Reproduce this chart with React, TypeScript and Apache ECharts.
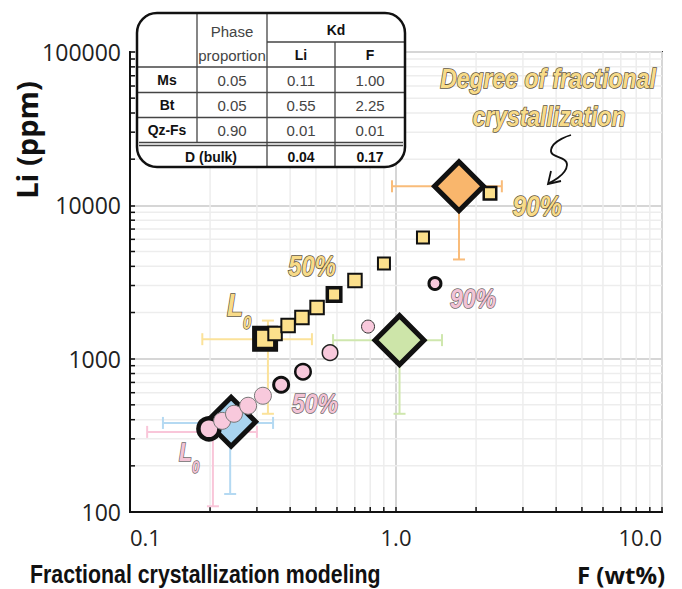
import React, { useEffect, useRef } from 'react';
import * as echarts from 'echarts';

// ---------- axes ----------
const X_MIN = 0.1;
const X_MAX = 10;
const Y_MIN = 100;
const Y_MAX = 100000;
const X_TICKS = [0.1, 1, 10];
const X_TICK_LABELS = ['0.1', '1.0', '10.0'];
const Y_TICKS = [100, 1000, 10000, 100000];
const Y_TICK_LABELS = ['100', '1000', '10000', '100000'];
const MINOR_STEPS = [2, 3, 4, 5, 6, 7, 8, 9];
const X_DECADES = [0.1, 1];
const Y_DECADES = [100, 1000, 10000];

// ---------- fractional crystallization model (L0, 10% ... 90%) ----------
const FC_STEPS = ['L0', '10%', '20%', '30%', '40%', '50%', '60%', '70%', '80%', '90%'];
const MODEL_A_F = [0.322, 0.351, 0.393, 0.443, 0.505, 0.585, 0.701, 0.901, 1.263, 2.256];
const MODEL_A_LI = [1351, 1457, 1643, 1853, 2154, 2620, 3234, 4178, 6177, 11980];
const MODEL_B_F = [0.198, 0.222, 0.246, 0.278, 0.316, 0.37, 0.447, 0.565, 0.785, 1.401];
const MODEL_B_LI = [349, 393, 437, 493, 573, 676, 822, 1094, 1619, 3092];

// ---------- samples (diamonds) ----------
const SAMPLE_NAMES = ['Sample 1', 'Sample 2', 'Sample 3'];
const SAMPLE_F = [0.24, 1.031, 1.725];
const SAMPLE_LI = [388, 1321, 13310];

// ---------- uncertainties ----------
const ERR_NAMES = ['Model A L0', 'Model B L0', 'Sample 1', 'Sample 2', 'Sample 3'];
const ERR_F_MID = [0.33, 0.205, 0.238, 1.031, 1.725];
const ERR_LI_MID = [1340, 333, 381, 1321, 13310];
const ERR_F_LOW = [0.187, 0.116, 0.133, 0.58, 0.966];
const ERR_F_HIGH = [0.483, 0.3, 0.345, 1.489, 2.5];
const ERR_LI_LOW = [437, 109, 131, 437, 4436];
const ERR_LI_HIGH: (number | null)[] = [1772, null, null, null, null];

// ---------- partition coefficient table ----------
const TABLE_PHASES = ['Ms', 'Bt', 'Qz-Fs'];
const PHASE_PROPORTION = ['0.05', '0.05', '0.90'];
const KD_LI = ['0.11', '0.55', '0.01'];
const KD_F = ['1.00', '2.25', '0.01'];
const D_BULK_LI = '0.04';
const D_BULK_F = '0.17';

// ---------- styling ----------
const YELLOW = '#FCE08C';
const PINK = '#F8C9DC';
const SAMPLE_COLORS = ['#A9D4EF', '#CDE5A9', '#F9B66C'];
const ERR_COLORS = ['#FBE29A', '#F9C6D9', '#B4D9F2', '#CFE7AE', '#F9BC7A'];
const ARIAL = "'Liberation Sans', Arial, sans-serif";
const SANS = "'Open Sans', 'Noto Sans', sans-serif";
const NARROW_SCALE = 0.82;

const fmt = (ticks: number[], labels: string[]) => (v: number) => {
  const i = ticks.findIndex((t) => Math.abs(Math.log10(t) - Math.log10(v)) < 1e-6);
  return i >= 0 ? labels[i] : '';
};

const squareStyle = (i: number) => {
  if (i === 0) return { size: 21, border: 5 };
  if (i === 5) return { size: 13.5, border: 3.5 };
  if (i === 9) return { size: 12.5, border: 2.5 };
  if (i >= 7) return { size: 12, border: 2 };
  return { size: 13.5, border: 2 };
};
const circleStyle = (i: number) => {
  if (i === 0) return { size: 21, border: 4.5, color: '#111' };
  if (i === 5) return { size: 15, border: 3, color: '#111' };
  if (i === 6) return { size: 15.5, border: 2.5, color: '#111' };
  if (i === 7) return { size: 15.5, border: 1.5, color: '#222' };
  if (i === 8) return { size: 13, border: 1, color: '#333' };
  if (i === 9) return { size: 12, border: 3, color: '#111' };
  return { size: 17, border: 1, color: '#777' };
};

function buildTable(): any[] {
  const L = 137, R = 405, T = 13, B = 167;
  const c1 = 197, c2 = 267, c3 = 335;
  const els: any[] = [];
  const line = (x1: number, y1: number, x2: number, y2: number, w = 1.3) => ({
    type: 'line',
    shape: { x1, y1, x2, y2 },
    style: { stroke: '#444', lineWidth: w },
    z: 101,
  });
  const txt = (text: string, x: number, y: number, bold: boolean) => ({
    type: 'text',
    x,
    y,
    scaleX: bold ? 0.9 : 0.97,
    style: {
      text,
      font: `${bold ? 'bold ' : ''}15.5px ${ARIAL}`,
      fill: bold ? '#111' : '#444',
      align: 'center',
      verticalAlign: 'middle',
      textAlign: 'center',
      textVerticalAlign: 'middle',
    },
    z: 102,
  });
  els.push({
    type: 'rect',
    shape: { x: L, y: T, width: R - L, height: B - T, r: 20 },
    style: { fill: '#fff', stroke: 'none' },
    z: 100,
  });
  els.push(line(c2, 42, R, 42));
  els.push(line(L, 67, R, 67));
  els.push(line(L, 92.5, R, 92.5));
  els.push(line(L, 117.5, R, 117.5));
  els.push(line(L + 2, 142.5, R - 2, 142.5));
  els.push(line(L + 2, 145.5, R - 2, 145.5));
  els.push(line(c1, T, c1, 142.5));
  els.push(line(c2, T, c2, B));
  els.push(line(c3, 42, c3, B));
  els.push(txt('Phase', 232, 31, false));
  els.push(txt('proportion', 232, 55, false));
  els.push(txt('Kd', (c2 + R) / 2, 30, true));
  els.push(txt('Li', (c2 + c3) / 2, 55, true));
  els.push(txt('F', (c3 + R) / 2, 55, true));
  TABLE_PHASES.forEach((p, i) => {
    const y = 80 + i * 25;
    els.push(txt(p, (L + c1) / 2, y, true));
    els.push(txt(PHASE_PROPORTION[i], (c1 + c2) / 2, y, false));
    els.push(txt(KD_LI[i], (c2 + c3) / 2, y, false));
    els.push(txt(KD_F[i], (c3 + R) / 2, y, false));
  });
  els.push(txt('D (bulk)', 211, 157, true));
  els.push(txt(D_BULK_LI, (c2 + c3) / 2, 157, true));
  els.push(txt(D_BULK_F, (c3 + R) / 2, 157, true));
  els.push({
    type: 'rect',
    shape: { x: L, y: T, width: R - L, height: B - T, r: 20 },
    style: { fill: 'none', stroke: '#111', lineWidth: 2.5 },
    z: 103,
  });
  return els;
}

function outlined(text: string, x: number, y: number, size: number, fill: string, stroke: string): any {
  return {
    type: 'text',
    x,
    y,
    scaleX: NARROW_SCALE,
    style: {
      text,
      font: `italic bold ${size}px ${ARIAL}`,
      fill,
      stroke,
      lineWidth: 1.6,
      align: 'center',
      verticalAlign: 'middle',
      textAlign: 'center',
      textVerticalAlign: 'middle',
    },
    z: 90,
  };
}

function subscripted(x: number, y: number, big: number, small: number, pad: number, fill: string, stroke: string): any {
  return {
    type: 'text',
    x,
    y,
    scaleX: NARROW_SCALE,
    style: {
      text: '{l|L}{s|0}',
      align: 'left',
      verticalAlign: 'top',
      textAlign: 'left',
      textVerticalAlign: 'top',
      rich: {
        l: {
          font: `italic bold ${big}px ${ARIAL}`,
          fill,
          stroke,
          lineWidth: 1.6,
          lineHeight: big,
          verticalAlign: 'top',
        },
        s: {
          font: `italic bold ${small}px ${ARIAL}`,
          fill,
          stroke,
          lineWidth: 1.3,
          lineHeight: small,
          verticalAlign: 'top',
          padding: [pad, 0, 0, 0],
        },
      },
    },
    z: 90,
  };
}

function buildOption(): any {
  const xMinor: number[] = [];
  X_DECADES.forEach((d) => MINOR_STEPS.forEach((k) => xMinor.push(+(k * d).toFixed(6))));
  const yMinor: number[] = [];
  Y_DECADES.forEach((d) => MINOR_STEPS.forEach((k) => yMinor.push(k * d)));

  const yellowText = '#F8DB89';
  const yellowStroke = '#5e5540';
  const pinkText = '#F3C3D5';
  const pinkStroke = '#6f6a6c';

  const graphic: any[] = [
    ...buildTable(),
    outlined('Degree of fractional', 548, 78, 28, yellowText, yellowStroke),
    outlined('crystallization', 549, 116, 28, yellowText, yellowStroke),
    outlined('90%', 537, 206, 30, yellowText, yellowStroke),
    outlined('50%', 312, 266, 29, yellowText, yellowStroke),
    subscripted(227, 289, 32, 18, 24, yellowText, yellowStroke),
    outlined('90%', 473, 298, 28, pinkText, pinkStroke),
    outlined('50%', 315, 403, 28, pinkText, pinkStroke),
    subscripted(179, 439, 26, 16, 21, pinkText, pinkStroke),
    {
      type: 'polyline',
      shape: { points: [[571, 135], [551, 150], [567, 165], [549, 183]], smooth: 0.6 },
      style: { stroke: '#111', lineWidth: 1.8, fill: 'none' },
      z: 90,
    },
    {
      type: 'polyline',
      shape: { points: [[551, 171], [548, 184], [561, 181]] },
      style: { stroke: '#111', lineWidth: 1.8, fill: 'none' },
      z: 90,
    },
    {
      type: 'text',
      x: 26,
      y: 140,
      rotation: Math.PI / 2,
      style: {
        text: 'Li (ppm)',
        font: `bold 29px ${SANS}`,
        fill: '#111',
        align: 'center',
        verticalAlign: 'middle',
        textAlign: 'center',
        textVerticalAlign: 'middle',
      },
    },
    {
      type: 'text',
      x: 621,
      y: 574,
      style: {
        text: 'F (wt%)',
        font: `bold 24px ${SANS}`,
        lineHeight: 26,
        fill: '#111',
        align: 'center',
        verticalAlign: 'middle',
        textAlign: 'center',
        textVerticalAlign: 'middle',
      },
    },
    {
      type: 'text',
      x: 30,
      y: 574,
      scaleX: NARROW_SCALE,
      style: {
        text: 'Fractional crystallization modeling',
        font: `bold 26px ${ARIAL}`,
        lineHeight: 26,
        fill: '#111',
        align: 'left',
        verticalAlign: 'middle',
        textAlign: 'left',
        textVerticalAlign: 'middle',
      },
    },
  ];

  return {
    animation: false,
    backgroundColor: '#fff',
    grid: {
      left: 130,
      right: 20,
      top: 52,
      bottom: 77,
      show: true,
      borderColor: '#333',
      borderWidth: 2,
      backgroundColor: 'transparent',
    },
    xAxis: {
      type: 'log',
      logBase: 10,
      min: X_MIN,
      max: X_MAX,
      axisLine: { show: true, onZero: false, lineStyle: { color: '#111', width: 2 } },
      axisTick: { show: true, inside: true, length: 5, lineStyle: { color: '#111', width: 1.5 } },
      axisLabel: {
        fontFamily: SANS,
        fontSize: 22,
        color: '#222',
        margin: 14,
        formatter: fmt(X_TICKS, X_TICK_LABELS),
        alignMinLabel: 'left',
        alignMaxLabel: 'right',
      },
      splitLine: { show: true, lineStyle: { color: '#d6d6d6', width: 2 } },
    },
    yAxis: {
      type: 'log',
      logBase: 10,
      min: Y_MIN,
      max: Y_MAX,
      axisLine: { show: true, onZero: false, lineStyle: { color: '#111', width: 2 } },
      axisTick: { show: true, inside: true, length: 5, lineStyle: { color: '#111', width: 1.5 } },
      axisLabel: {
        fontFamily: SANS,
        fontSize: 23,
        color: '#222',
        margin: 9,
        formatter: fmt(Y_TICKS, Y_TICK_LABELS),
      },
      splitLine: { show: true, lineStyle: { color: '#d6d6d6', width: 2 } },
    },
    graphic,
    series: [
      {
        name: 'minor-x',
        type: 'custom',
        coordinateSystem: 'cartesian2d',
        silent: true,
        z: 0,
        data: xMinor.map((v) => [v, Y_MIN]),
        renderItem: (_p: any, api: any) => {
          const v = api.value(0);
          const a = api.coord([v, Y_MIN]);
          const b = api.coord([v, Y_MAX]);
          return {
            type: 'group',
            children: [
              { type: 'line', shape: { x1: a[0], y1: a[1], x2: b[0], y2: b[1] }, style: { stroke: '#ededed', lineWidth: 1.5 } },
              { type: 'line', shape: { x1: a[0], y1: a[1], x2: a[0], y2: a[1] - 5 }, style: { stroke: '#111', lineWidth: 1.5 } },
            ],
          };
        },
      },
      {
        name: 'minor-y',
        type: 'custom',
        coordinateSystem: 'cartesian2d',
        silent: true,
        z: 0,
        data: yMinor.map((v) => [X_MIN, v]),
        renderItem: (_p: any, api: any) => {
          const v = api.value(1);
          const a = api.coord([X_MIN, v]);
          const b = api.coord([X_MAX, v]);
          return {
            type: 'group',
            children: [
              { type: 'line', shape: { x1: a[0], y1: a[1], x2: b[0], y2: b[1] }, style: { stroke: '#ededed', lineWidth: 1.5 } },
              { type: 'line', shape: { x1: a[0], y1: a[1], x2: a[0] + 5, y2: a[1] }, style: { stroke: '#111', lineWidth: 1.5 } },
            ],
          };
        },
      },
      {
        name: 'uncertainty',
        type: 'custom',
        coordinateSystem: 'cartesian2d',
        silent: true,
        z: 2,
        encode: { x: 0, y: 1 },
        data: ERR_NAMES.map((_n, i) => [
          ERR_F_MID[i],
          ERR_LI_MID[i],
          ERR_F_LOW[i],
          ERR_F_HIGH[i],
          ERR_LI_LOW[i],
          ERR_LI_HIGH[i] == null ? '-' : ERR_LI_HIGH[i],
        ]),
        renderItem: (params: any, api: any) => {
          const fx = api.value(0);
          const fy = api.value(1);
          const c = api.coord([fx, fy]);
          const xl = api.coord([api.value(2), fy]);
          const xh = api.coord([api.value(3), fy]);
          const yl = api.coord([fx, api.value(4)]);
          const yhv = api.value(5);
          const stroke = ERR_COLORS[params.dataIndex];
          const st = { stroke, lineWidth: 2 };
          const cap = 6;
          const ch: any[] = [
            { type: 'line', shape: { x1: xl[0], y1: c[1], x2: xh[0], y2: c[1] }, style: st },
            { type: 'line', shape: { x1: xl[0], y1: c[1] - cap, x2: xl[0], y2: c[1] + cap }, style: st },
            { type: 'line', shape: { x1: xh[0], y1: c[1] - cap, x2: xh[0], y2: c[1] + cap }, style: st },
            { type: 'line', shape: { x1: c[0], y1: c[1], x2: c[0], y2: yl[1] }, style: st },
            { type: 'line', shape: { x1: c[0] - cap, y1: yl[1], x2: c[0] + cap, y2: yl[1] }, style: st },
          ];
          if (yhv != null && !isNaN(yhv)) {
            const yh = api.coord([fx, yhv]);
            ch.push({ type: 'line', shape: { x1: c[0], y1: c[1], x2: c[0], y2: yh[1] }, style: st });
            ch.push({ type: 'line', shape: { x1: c[0] - cap, y1: yh[1], x2: c[0] + cap, y2: yh[1] }, style: st });
          }
          return { type: 'group', children: ch };
        },
      },
      {
        name: 'Samples',
        type: 'scatter',
        z: 3,
        symbol: 'diamond',
        symbolSize: 49,
        data: SAMPLE_NAMES.map((n, i) => ({
          name: n,
          value: [SAMPLE_F[i], SAMPLE_LI[i]],
          itemStyle: { color: SAMPLE_COLORS[i], borderColor: '#111', borderWidth: 5, opacity: 1 },
        })),
      },
      {
        name: 'Model B',
        type: 'scatter',
        z: 4,
        symbol: 'circle',
        data: FC_STEPS.map((s, i) => {
          const cs = circleStyle(i);
          return {
            name: s,
            value: [MODEL_B_F[i], MODEL_B_LI[i]],
            symbolSize: cs.size,
            itemStyle: { color: PINK, borderColor: cs.color, borderWidth: cs.border, opacity: 1 },
          };
        }),
      },
      {
        name: 'Model A',
        type: 'scatter',
        z: 4,
        symbol: 'rect',
        data: FC_STEPS.map((s, i) => {
          const ss = squareStyle(i);
          return {
            name: s,
            value: [MODEL_A_F[i], MODEL_A_LI[i]],
            symbolSize: ss.size,
            itemStyle: { color: YELLOW, borderColor: '#111', borderWidth: ss.border, opacity: 1 },
          };
        }),
      },
    ],
  };
}

export default function App() {
  const ref = useRef<HTMLDivElement>(null);
  useEffect(() => {
    if (!ref.current) return;
    const chart = echarts.init(ref.current, undefined, { renderer: 'svg' });
    chart.setOption(buildOption());
    return () => chart.dispose();
  }, []);
  return (
    <div
      ref={ref}
      style={{ position: 'absolute', left: 0, top: 0, width: 682, height: 589, background: '#fff' }}
    />
  );
}
